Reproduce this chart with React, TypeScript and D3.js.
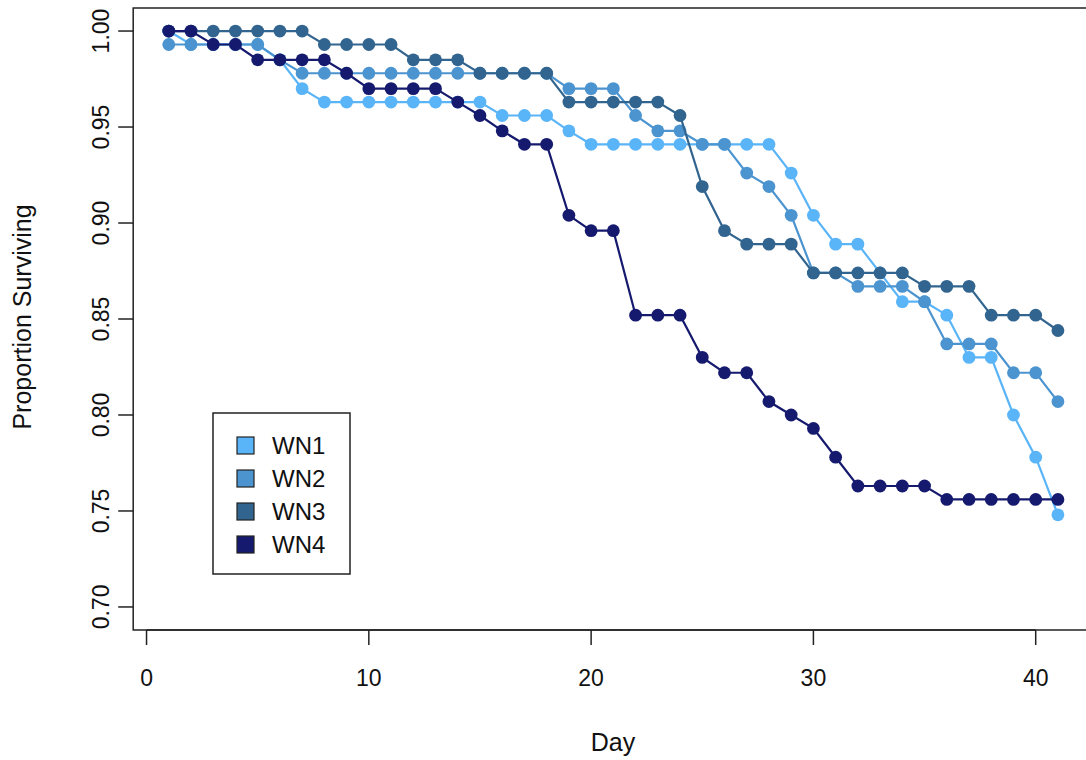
import React from "react";
import * as d3 from "d3";

const days = [1,2,3,4,5,6,7,8,9,10,11,12,13,14,15,16,17,18,19,20,21,22,23,24,25,26,27,28,29,30,31,32,33,34,35,36,37,38,39,40,41];

const wn1 = [1.000,0.993,0.993,0.993,0.993,0.985,0.970,0.963,0.963,0.963,0.963,0.963,0.963,0.963,0.963,0.956,0.956,0.956,0.948,0.941,0.941,0.941,0.941,0.941,0.941,0.941,0.941,0.941,0.926,0.904,0.889,0.889,0.874,0.859,0.859,0.852,0.830,0.830,0.800,0.778,0.748];
const wn2 = [0.993,0.993,0.993,0.993,0.993,0.985,0.978,0.978,0.978,0.978,0.978,0.978,0.978,0.978,0.978,0.978,0.978,0.978,0.970,0.970,0.970,0.956,0.948,0.948,0.941,0.941,0.926,0.919,0.904,0.874,0.874,0.867,0.867,0.867,0.859,0.837,0.837,0.837,0.822,0.822,0.807];
const wn3 = [1.000,1.000,1.000,1.000,1.000,1.000,1.000,0.993,0.993,0.993,0.993,0.985,0.985,0.985,0.978,0.978,0.978,0.978,0.963,0.963,0.963,0.963,0.963,0.956,0.919,0.896,0.889,0.889,0.889,0.874,0.874,0.874,0.874,0.874,0.867,0.867,0.867,0.852,0.852,0.852,0.844];
const wn4 = [1.000,1.000,0.993,0.993,0.985,0.985,0.985,0.985,0.978,0.970,0.970,0.970,0.970,0.963,0.956,0.948,0.941,0.941,0.904,0.896,0.896,0.852,0.852,0.852,0.830,0.822,0.822,0.807,0.800,0.793,0.778,0.763,0.763,0.763,0.763,0.756,0.756,0.756,0.756,0.756,0.756];

const seriesNames = ["WN1", "WN2", "WN3", "WN4"];
const seriesValues = [wn1, wn2, wn3, wn4];
const seriesColors = ["#5ab4f8", "#4b94cf", "#31648e", "#161a6e"];

const xTicks = [0, 10, 20, 30, 40];
const yTicks = [0.70, 0.75, 0.80, 0.85, 0.90, 0.95, 1.00];

const FONT = "'Liberation Sans', Arial, Helvetica, sans-serif";

export default function App() {
  React.useEffect(() => {
    document.body.style.margin = "0";
  }, []);

  const W = 1086, H = 760;
  const x = d3.scaleLinear().domain([-0.6, 42.6]).range([133.2, 1093.5]);
  const y = d3.scaleLinear().domain([0.688, 1.012]).range([630, 8]);
  const line = d3.line<number>().x((_, i) => x(days[i])).y((v) => y(v));

  const x0 = x.range()[0], x1 = x.range()[1];
  const y0 = y.range()[0], y1 = y.range()[1];
  const tickLen = 15;
  const fsTick = 23;
  const fsTitle = 25;

  return (
    <svg width={W} height={H} style={{ position: "absolute", left: 0, top: 0, background: "#fff" }} fontFamily={FONT}>
      <rect x={0} y={0} width={W} height={H} fill="#fff" />
      {seriesValues.map((vals, si) => (
        <g key={seriesNames[si]}>
          <path d={line(vals) || ""} fill="none" stroke={seriesColors[si]} strokeWidth={2.2} />
          {vals.map((v, i) => (
            <circle key={i} cx={x(days[i])} cy={y(v)} r={6.4} fill={seriesColors[si]} />
          ))}
        </g>
      ))}
      {/* box */}
      <rect x={x0} y={y1} width={x1 - x0} height={y0 - y1} fill="none" stroke="#222" strokeWidth={1.5} />
      {/* x axis */}
      <line x1={x(xTicks[0])} x2={x(xTicks[xTicks.length - 1])} y1={y0} y2={y0} stroke="#222" strokeWidth={1.5} />
      {xTicks.map((t) => (
        <g key={t}>
          <line x1={x(t)} x2={x(t)} y1={y0} y2={y0 + tickLen} stroke="#222" strokeWidth={1.5} />
          <text x={x(t)} y={y0 + 56} textAnchor="middle" fontSize={fsTick} fill="#111">{t}</text>
        </g>
      ))}
      {/* y axis */}
      {yTicks.map((t) => (
        <g key={t}>
          <line x1={x0} x2={x0 - tickLen} y1={y(t)} y2={y(t)} stroke="#222" strokeWidth={1.5} />
          <text transform={`translate(${x0 - 24},${y(t)}) rotate(-90)`} textAnchor="middle" fontSize={fsTick} fill="#111">{t.toFixed(2)}</text>
        </g>
      ))}
      <text x={613} y={751} textAnchor="middle" fontSize={fsTitle} fill="#111">Day</text>
      <text transform={`translate(31,${(y0 + y1) / 2 - 2}) rotate(-90)`} textAnchor="middle" fontSize={fsTitle} fill="#111">Proportion Surviving</text>
      {/* legend */}
      <g>
        <rect x={213} y={413} width={137} height={161} fill="#fff" stroke="#222" strokeWidth={1.5} />
        {seriesNames.map((n, i) => (
          <g key={n}>
            <rect x={237} y={437 + i * 33} width={17} height={17} fill={seriesColors[i]} stroke="#222" strokeWidth={1.2} />
            <text x={272} y={454 + i * 33} fontSize={24} fill="#111">{n}</text>
          </g>
        ))}
      </g>
    </svg>
  );
}
